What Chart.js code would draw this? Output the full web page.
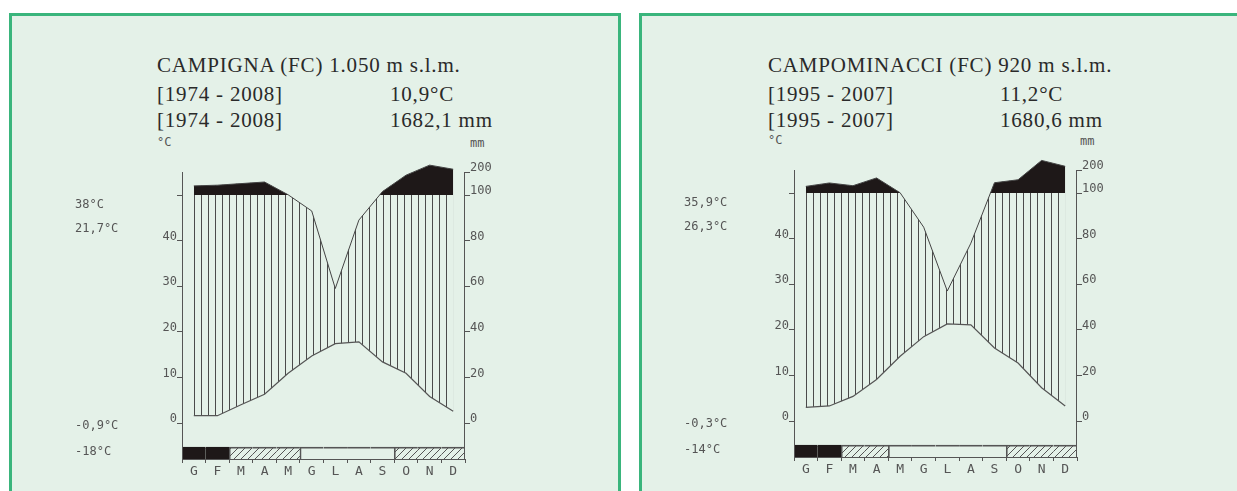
<!DOCTYPE html>
<html>
<head>
<meta charset="utf-8">
<script src="https://cdn.jsdelivr.net/npm/chart.js@4.4.1/dist/chart.umd.min.js"></script>
<style>
  body { margin: 0; background: #fff; width: 1237px; height: 491px; overflow: hidden; position: relative; }
  .panel { position: absolute; top: 13px; height: 490px; background: #e4f1e8; border: 3px solid #3ab57c; border-bottom: none; }
  .head { position: absolute; font-family: "Liberation Serif", serif; color: #2a2a2a; font-size: 21px; letter-spacing: 0.8px; white-space: nowrap; }
  .unit { position: absolute; font-family: "DejaVu Sans Mono", monospace; color: #555; font-size: 12px; }
  canvas { position: absolute; top: 0; }
</style>
</head>
<body>
<div class="panel" style="left:9px; width:606px;"></div>
<div class="panel" style="left:639px; width:610px; border-right:none;"></div>

<div class="head" style="left:157px; top:53px;">CAMPIGNA (FC) 1.050 m s.l.m.</div>
<div class="head" style="left:157px; top:82px;">[1974 - 2008]</div>
<div class="head" style="left:390px; top:82px;">10,9°C</div>
<div class="head" style="left:157px; top:108px;">[1974 - 2008]</div>
<div class="head" style="left:390px; top:108px;">1682,1 mm</div>
<div class="unit" style="left:157px; top:135px;">°C</div>
<div class="unit" style="left:470px; top:136px;">mm</div>

<div class="head" style="left:768px; top:53px;">CAMPOMINACCI (FC) 920 m s.l.m.</div>
<div class="head" style="left:768px; top:82px;">[1995 - 2007]</div>
<div class="head" style="left:1000px; top:82px;">11,2°C</div>
<div class="head" style="left:768px; top:108px;">[1995 - 2007]</div>
<div class="head" style="left:1000px; top:108px;">1680,6 mm</div>
<div class="unit" style="left:768px; top:133px;">°C</div>
<div class="unit" style="left:1080px; top:134px;">mm</div>

<canvas id="chart1" width="620" height="491" style="left:0px;"></canvas>
<canvas id="chart2" width="607" height="491" style="left:630px;"></canvas>

<script>
const months = ['G', 'F', 'M', 'A', 'M', 'G', 'L', 'A', 'S', 'O', 'N', 'D'];

// Campigna
const campignaTemp = [1.6, 1.6, 4.0, 6.3, 10.9, 14.7, 17.4, 17.8, 13.4, 10.9, 5.8, 2.6];
const campignaRain = [140, 143, 150, 157, 101, 93, 59, 89, 115, 187, 231, 213];
const campignaFrost = [2, 2, 1, 1, 1, 0, 0, 0, 0, 1, 1, 1];
const campignaNotes = ['38°C', '21,7°C', '-0,9°C', '-18°C'];

// Campominacci
const campoTemp = [3.0, 3.3, 5.4, 9.1, 14.2, 18.5, 21.3, 21.1, 16.0, 12.7, 7.3, 3.3];
const campoRain = [129, 144, 132, 166, 101, 85, 57, 78, 145, 158, 243, 217];
const campoFrost = [2, 2, 1, 1, 0, 0, 0, 0, 0, 1, 1, 1];
const campoNotes = ['35,9°C', '26,3°C', '-0,3°C', '-14°C'];

const tempTicks = [0, 10, 20, 30, 40, 50];
const rainTicks = [0, 20, 40, 60, 80, 100, 200];

const INK = '#555';
const BLACK = '#1e1818';
const axisFont = { family: 'DejaVu Sans Mono', size: 12 };
// 300 px tall plot, 4.56 px per °C, so the 100 mm line sits on a whole pixel
const PAD_UNITS = 36 / 4.56;
const Y_MIN = -PAD_UNITS, Y_MAX = 50 + PAD_UNITS, Y_TOP = 55;

// Walter-Lieth: 2 mm per °C up to 100 mm, then 1/10 scale
const mmToScale = mm => mm <= 100 ? mm / 2 : 50 + (mm - 100) / 20;
const scaleToMm = v => v <= 50 ? v * 2 : 100 + (v - 50) * 20;

function makeVertHatch() {
  const c = document.createElement('canvas');
  c.width = 7; c.height = 8;
  const g = c.getContext('2d');
  g.fillStyle = '#4a4a4a';
  g.fillRect(0, 0, 1, 8);
  return g.createPattern(c, 'repeat');
}

function makeDiagHatch() {
  const c = document.createElement('canvas');
  c.width = 7; c.height = 7;
  const g = c.getContext('2d');
  g.strokeStyle = '#555';
  g.lineWidth = 1;
  g.beginPath();
  g.moveTo(0, 7); g.lineTo(7, 0);
  g.moveTo(-1, 1); g.lineTo(1, -1);
  g.moveTo(6, 8); g.lineTo(8, 6);
  g.stroke();
  return g.createPattern(c, 'repeat');
}

const noteLevels = [47.9, 42.5, -0.7, -6.3];

const sideNotes = {
  id: 'sideNotes',
  beforeDatasetsDraw(chart) {
    const hatch = chart.options.plugins.sideNotes.hatch;
    const x0 = chart.scales.x.getPixelForValue(0);
    hatch.setTransform(new DOMMatrix([1, 0, 0, 1, Math.round(x0), 0]));
  },
  afterDraw(chart, args, opts) {
    const ctx = chart.ctx;
    const y = chart.scales.y;
    const area = chart.chartArea;
    ctx.save();
    // axis spines stop at the 200 mm mark
    ctx.strokeStyle = INK;
    ctx.lineWidth = 1;
    ctx.beginPath();
    const top = Math.round(y.getPixelForValue(Y_TOP));
    ctx.moveTo(Math.round(area.left) + 0.5, top);
    ctx.lineTo(Math.round(area.left) + 0.5, area.bottom);
    ctx.moveTo(Math.round(area.right) - 0.5, top);
    ctx.lineTo(Math.round(area.right) - 0.5, area.bottom);
    ctx.stroke();
    ctx.font = '12px "DejaVu Sans Mono"';
    ctx.fillStyle = INK;
    ctx.textBaseline = 'middle';
    opts.notes.forEach((t, i) => {
      ctx.fillText(t, area.left - opts.dx, y.getPixelForValue(noteLevels[i]));
    });
    ctx.restore();
  }
};

function climateChart(id, temp, rain, frost, notes, pad, dx) {
  const hatch = makeVertHatch();
  const diag = makeDiagHatch();
  const frostColors = frost.map(f => f === 2 ? BLACK : f === 1 ? diag : 'rgba(0,0,0,0)');
  const rainScaled = rain.map(mmToScale);

  return new Chart(document.getElementById(id), {
    data: {
      labels: months,
      datasets: [{
        // mean monthly temperature
        type: 'line',
        data: temp,
        borderColor: INK,
        borderWidth: 1.2,
        pointRadius: 0,
        tension: 0,
        fill: false
      }, {
        // perhumid part (> 100 mm) in black
        type: 'line',
        data: rainScaled,
        borderColor: '#444',
        borderWidth: 1,
        pointRadius: 0,
        tension: 0,
        fill: { value: 50, above: BLACK, below: 'rgba(0,0,0,0)' }
      }, {
        // humid period, vertical hatching down to the temperature curve
        type: 'line',
        data: rainScaled,
        borderColor: 'rgba(0,0,0,0)',
        borderWidth: 0,
        pointRadius: 0,
        tension: 0,
        fill: { target: 0, above: hatch, below: hatch }
      }, {
        // frost months strip
        type: 'bar',
        data: frost.map(() => [Y_MIN, -5.3]),
        backgroundColor: frostColors,
        borderColor: frost.map(f => f === 2 ? BLACK : INK),
        borderSkipped: false,
        borderWidth: ctx => ({
          top: 1, bottom: 0, right: 0,
          left: ctx.dataIndex > 0 && frost[ctx.dataIndex] !== frost[ctx.dataIndex - 1] ? 1 : 0
        }),
        categoryPercentage: 1,
        barPercentage: 1
      }]
    },
    options: {
      responsive: false,
      animation: false,
      layout: { padding: pad },
      plugins: {
        legend: { display: false },
        tooltip: { enabled: false },
        sideNotes: { notes: notes, hatch: hatch, dx: dx }
      },
      scales: {
        x: {
          type: 'category',
          offset: true,
          grid: { offset: true, drawOnChartArea: false, tickLength: 4, color: INK },
          border: { color: INK },
          ticks: { font: { family: 'DejaVu Sans Mono', size: 13 }, color: INK, padding: 1, maxRotation: 0, autoSkip: false },
          afterFit: s => { s.height = 25; }
        },
        y: {
          position: 'left',
          min: Y_MIN,
          max: Y_MAX,
          afterBuildTicks: s => { s.ticks = tempTicks.map(v => ({ value: v })); },
          grid: { drawOnChartArea: false, tickLength: 5, color: INK },
          border: { display: false },
          ticks: { font: axisFont, color: INK, padding: 0, labelOffset: -4,
                   callback: v => v === 50 ? '' : v },
          afterFit: s => { s.width = 40; }
        },
        yr: {
          position: 'right',
          min: Y_MIN,
          max: Y_MAX,
          afterBuildTicks: s => { s.ticks = rainTicks.map(mm => ({ value: mmToScale(mm) })); },
          grid: { drawOnChartArea: false, tickLength: 5, color: INK },
          border: { display: false },
          ticks: { font: axisFont, color: INK, padding: 0, labelOffset: -4,
                   callback: v => Math.round(scaleToMm(v)) },
          afterFit: s => { s.width = 45; }
        }
      }
    },
    plugins: [sideNotes]
  });
}

climateChart('chart1', campignaTemp, campignaRain, campignaFrost, campignaNotes,
  { left: 142, right: 110, top: 159, bottom: 7 }, 107);
climateChart('chart2', campoTemp, campoRain, campoFrost, campoNotes,
  { left: 124, right: 115, top: 157, bottom: 9 }, 110);
</script>
</body>
</html>
